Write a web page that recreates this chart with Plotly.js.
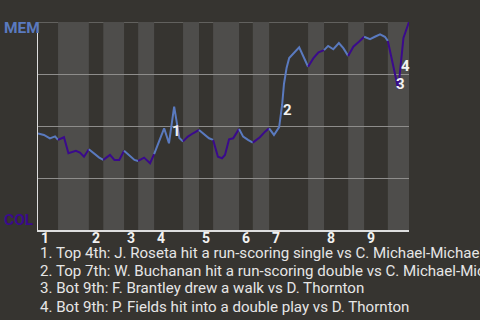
<!DOCTYPE html>
<html><head><meta charset="utf-8">
<script src="https://cdn.plot.ly/plotly-3.0.1.min.js"></script>
<style>html,body{margin:0;padding:0;background:#363430;}#chart{width:480px;height:320px;}</style>
</head><body><div id="chart"></div>
<script>
// Game progress (0-100) and MEM win probability (0-1)
const progress = [0.0,1.6,3.2,4.6,5.4, 7.0,8.2,9.1,10.2,11.3,12.4,13.7, 15.2,16.5,17.6, 19.4,20.6,21.9,23.2,
  24.6,26.0,27.0, 28.6,30.2,31.3, 32.9,34.0,35.3,36.7,38.1,39.1, 40.4,41.8,43.4, 45.0,46.1,47.2,
  48.5,49.6,50.4,51.5,52.6,54.2, 55.3,56.6,57.9, 59.8,61.2,62.3, 63.6,65.0,65.8,66.3,67.0,67.7,70.4,72.8,
  74.2,75.6,77.1, 78.2,79.6,81.1,82.3,83.6, 85.0,86.5,87.9, 89.5,90.8,92.2,93.5,94.3, 97.1,98.5,100.0];
const memWinProb = [0.464,0.457,0.440,0.450,0.433, 0.446,0.369,0.374,0.381,0.372,0.352,0.388, 0.365,0.348,0.337,
  0.361,0.337,0.337,0.381, 0.357,0.337,0.332, 0.348,0.321,0.365, 0.441,0.489,0.417,0.593,0.442,0.426,
  0.449,0.465,0.481, 0.457,0.441,0.433, 0.352,0.345,0.361,0.436,0.441,0.486, 0.449,0.433,0.420,
  0.446,0.473,0.489, 0.457,0.495,0.601,0.702,0.779,0.827,0.878,0.785, 0.825,0.854,0.865,
  0.885,0.869,0.899,0.874,0.837, 0.881,0.905,0.929, 0.918,0.929,0.941,0.929,0.909, 0.678,0.923,1.0];
// Start of each half-inning (top 1, bot 1, top 2, ...)
const halfInningStarts = [0,5.4,13.7,17.6,23.2,27.0,31.3,39.1,43.4,47.2,54.2,57.9,62.3,72.8,77.1,83.6,87.9,94.3];
const gameEnd = 100;
const inningLabels = ["1","2","3","4","5","6","7","8","9"];
const teams = {top:"MEM", bottom:"COL"};
const eventNums = ["1","2","3","4"];
const eventX = [37.2,67.2,97.8,99.0];
const eventY = [0.478,0.579,0.703,0.787];
const eventTexts = [
  "1. Top 4th: J. Roseta hit a run-scoring single vs C. Michael-Michael",
  "2. Top 7th: W. Buchanan hit a run-scoring double vs C. Michael-Michael",
  "3. Bot 9th: F. Brantley drew a walk vs D. Thornton",
  "4. Bot 9th: P. Fields hit into a double play vs D. Thornton"];

const BLUE = "#5a7abf", PURPLE = "#3a0a8c";
const traces = [];
const shapes = [];
for (let i = 0; i < halfInningStarts.length; i++) {
  const s = halfInningStarts[i];
  const e = i + 1 < halfInningStarts.length ? halfInningStarts[i+1] : gameEnd;
  if (i % 2 === 1) {
    shapes.push({type:"rect", xref:"x", yref:"y", x0:s, x1:e, y0:0, y1:1, layer:"below",
      line:{width:0}, fillcolor:"#4e4d4b"});
  }
  const xs = [], ys = [];
  for (let k = 0; k < progress.length; k++) {
    if (progress[k] >= s - 1e-9 && progress[k] <= e + 1e-9) { xs.push(progress[k]); ys.push(memWinProb[k]); }
  }
  traces.push({x:xs, y:ys, type:"scatter", mode:"lines", hoverinfo:"skip",
    line:{color: i % 2 === 0 ? BLUE : PURPLE, width:2}});
}
shapes.push({type:"line", xref:"paper", yref:"y", x0:0, x1:1, y0:1, y1:1, layer:"below",
  line:{color:"#8e8d8b", width:1}});

const annotations = [];
inningLabels.forEach((t, j) => {
  annotations.push({text:t, xref:"x", yref:"paper", x:halfInningStarts[2*j], y:0, xanchor:"left", yanchor:"top",
    xshift:1, yshift:2, showarrow:false, font:{family:"Roboto", size:14, color:"#f2f2f2", weight:"bold"}});
});
eventNums.forEach((t, j) => {
  annotations.push({text:t, xref:"x", yref:"y", x:eventX[j], y:eventY[j], xanchor:"center", yanchor:"middle",
    showarrow:false, font:{family:"Roboto", size:15, color:"#f2f2f2", weight:"bold"}});
});
annotations.push({text:teams.top, xref:"paper", yref:"y", x:-0.097, y:0.972, xanchor:"left", yanchor:"middle",
  showarrow:false, font:{family:"Roboto", size:15.5, color:BLUE, weight:"bold"}});
annotations.push({text:teams.bottom, xref:"paper", yref:"y", x:-0.097, y:0.048, xanchor:"left", yanchor:"middle",
  showarrow:false, font:{family:"Roboto", size:15.5, color:PURPLE, weight:"bold"}});
const footY = [-0.111, -0.196, -0.281, -0.369];
eventTexts.forEach((t, j) => {
  annotations.push({text:t, xref:"paper", yref:"paper", x:0, y:footY[j], xanchor:"left", yanchor:"middle",
    xshift:0, showarrow:false, font:{family:"Roboto", size:15.1, color:"#e6e6e6"}});
});

const layout = {
  width:480, height:320,
  margin:{l:38, r:71, t:22, b:90, pad:0},
  paper_bgcolor:"#363430", plot_bgcolor:"#363430",
  showlegend:false,
  xaxis:{range:[0,gameEnd], showgrid:false, zeroline:false, showticklabels:false, ticks:"",
    showline:true, linecolor:"#dedede", linewidth:1.5, fixedrange:true},
  yaxis:{range:[0,1], tickvals:[0.25,0.5,0.75,1], showgrid:true, gridcolor:"#8e8d8b", gridwidth:1,
    zeroline:false, showticklabels:false, ticks:"", showline:true, linecolor:"#dedede", linewidth:1.5, fixedrange:true},
  shapes: shapes,
  annotations: annotations
};
Plotly.newPlot("chart", traces, layout, {staticPlot:true, displayModeBar:false});
</script></body></html>
